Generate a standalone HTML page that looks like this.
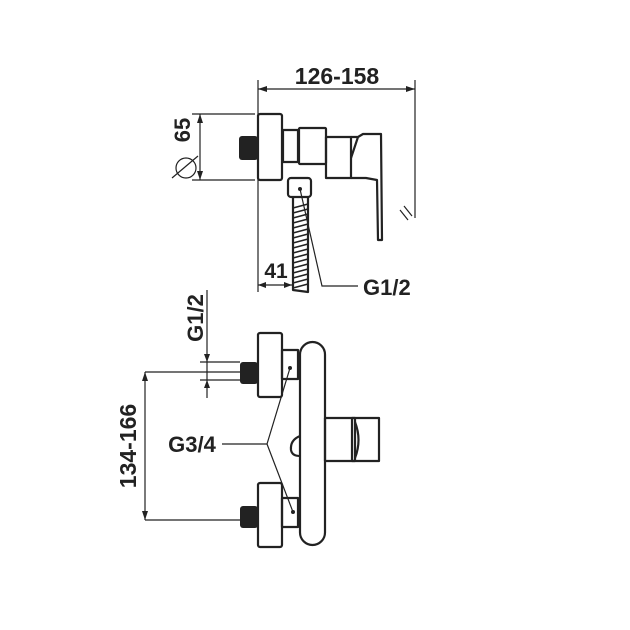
<!DOCTYPE html>
<html><head><style>
html,body{margin:0;padding:0;background:#fff;}
svg{display:block;}
text{font-family:"Liberation Sans",sans-serif;font-weight:bold;fill:#222;}
</style></head><body>
<svg width="630" height="630" viewBox="0 0 630 630" xmlns="http://www.w3.org/2000/svg">
<g fill="none" stroke="#222" stroke-width="2.2" stroke-linejoin="round">
<!-- TOP VIEW -->
<rect x="258" y="114" width="24" height="66" rx="2"/>
<rect x="283" y="130" width="15" height="32"/>
<rect x="299" y="128" width="27" height="36" rx="1"/>
<rect x="326" y="137" width="25" height="41"/>
<path d="M351 137 L358 137 L351 158 M358 137 L363 134 L381 134 L382 240 L378 240 L377 180 L366 178 L351 178"/>
<rect x="288" y="178" width="23" height="19" rx="3"/>
<path d="M293 197 L293 290 L308 292 L308 197"/>
</g>
<!-- hose coils -->
<g stroke="#222" stroke-width="1.6">
<path d="M293 208 L308 204 M293 213 L308 209 M293 218 L308 214 M293 223 L308 219 M293 228 L308 224 M293 233 L308 229 M293 238 L308 234 M293 243 L308 239 M293 248 L308 244 M293 253 L308 249 M293 258 L308 254 M293 263 L308 259 M293 268 L308 264 M293 273 L308 269 M293 278 L308 274 M293 283 L308 279 M293 288 L308 284"/>
</g>
<rect x="239" y="136" width="19" height="24" rx="3" fill="#222"/>
<g stroke="#222" stroke-width="1.2" fill="none">
<!-- 126-158 -->
<line x1="258" y1="80" x2="258" y2="292"/>
<line x1="415" y1="80" x2="415" y2="218"/>
<line x1="258" y1="89" x2="415" y2="89"/>
<line x1="400" y1="210" x2="408" y2="220"/>
<line x1="404" y1="206" x2="412" y2="216"/>
<!-- 65 -->
<line x1="192" y1="114" x2="255" y2="114"/>
<line x1="192" y1="180" x2="255" y2="180"/>
<line x1="200" y1="114" x2="200" y2="180"/>
<circle cx="186" cy="168" r="10"/>
<line x1="172" y1="178" x2="198" y2="156"/>
<!-- 41 -->
<line x1="258" y1="285" x2="292" y2="285"/>
<!-- G1/2 leader -->
<path d="M300 189 L322 286 L358 286"/>
</g>
<g fill="#222">
<path d="M258 89 l9 -3 v6z M415 89 l-9 -3 v6z M200 114 l-3 9 h6z M200 180 l-3 -9 h6z M258 285 l8 -3 v6z M292 285 l-8 -3 v6z"/>
<circle cx="300" cy="189" r="2"/>
</g>
<text x="337" y="84" font-size="23" text-anchor="middle">126-158</text>
<text x="276" y="278" font-size="21" text-anchor="middle">41</text>
<text x="363" y="295" font-size="22">G1/2</text>
<text transform="translate(190,130) rotate(-90)" font-size="22" text-anchor="middle">65</text>

<!-- BOTTOM VIEW -->
<g fill="none" stroke="#222" stroke-width="2.2" stroke-linejoin="round">
<rect x="258" y="333" width="24" height="64" rx="2"/>
<rect x="282" y="350" width="16" height="29"/>
<rect x="258" y="483" width="24" height="64" rx="2"/>
<rect x="282" y="498" width="16" height="29"/>
<rect x="300" y="342" width="25" height="203" rx="12.5"/>
<rect x="325" y="418" width="30" height="43"/>
<rect x="352" y="418" width="27" height="43"/>
<path d="M355 422 Q362 440 355 458"/>
<path d="M300 436 Q290 440 291 450 Q292 456 300 456"/>
</g>
<rect x="240" y="362" width="18" height="22" rx="3" fill="#222"/>
<rect x="240" y="506" width="18" height="22" rx="3" fill="#222"/>
<g stroke="#222" stroke-width="1.2" fill="none">
<line x1="207" y1="290" x2="207" y2="398"/>
<line x1="200" y1="362" x2="240" y2="362"/>
<line x1="200" y1="380" x2="240" y2="380"/>
<line x1="145" y1="372" x2="240" y2="372"/>
<line x1="145" y1="520" x2="240" y2="520"/>
<line x1="145" y1="372" x2="145" y2="520"/>
<path d="M222 444 L267 444 L290 368 M267 444 L293 512"/>
</g>
<g fill="#222">
<path d="M207 362 l-3 -8 h6z M207 380 l-3 8 h6z M145 372 l-3 9 h6z M145 520 l-3 -9 h6z"/>
<circle cx="290" cy="368" r="2"/><circle cx="293" cy="512" r="2"/>
</g>
<text transform="translate(203,318) rotate(-90)" font-size="22" text-anchor="middle">G1/2</text>
<text transform="translate(136,446) rotate(-90)" font-size="23" text-anchor="middle">134-166</text>
<text x="192" y="452" font-size="22" text-anchor="middle">G3/4</text>
</svg>
</body></html>
